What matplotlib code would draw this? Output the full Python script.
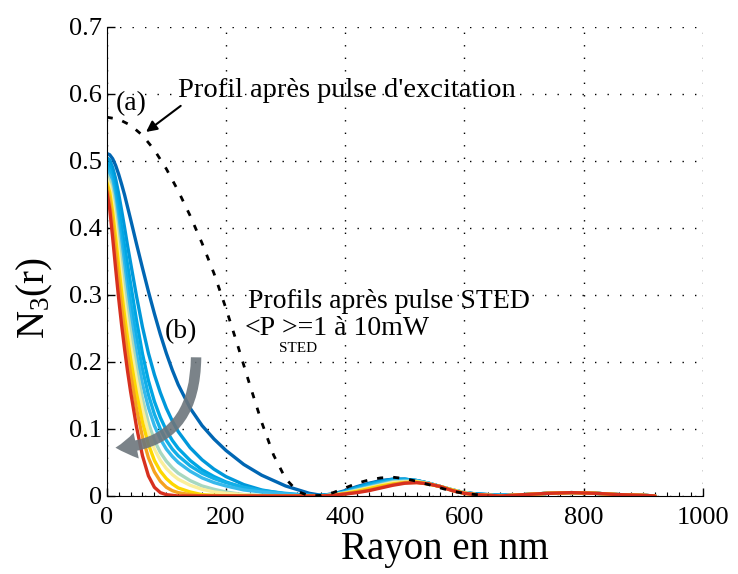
import numpy as np
import matplotlib.pyplot as plt
from matplotlib.patches import FancyArrowPatch
from matplotlib.ticker import MultipleLocator

plt.rcParams['font.family'] = ['Liberation Serif', 'DejaVu Serif']
plt.rcParams['mathtext.default'] = 'regular'

# excitation profile (dashed)
r_exc = [0, 20, 40, 60, 80, 100, 120, 140, 160, 180, 200, 220, 240, 260, 280, 300, 320,
         340, 360, 380, 400, 420, 440, 460, 480, 500, 520, 540, 560, 580, 600, 620, 640]
n_exc = [0.565, 0.562, 0.553, 0.538, 0.516, 0.488, 0.455, 0.418, 0.377, 0.332, 0.280,
         0.224, 0.166, 0.110, 0.061, 0.026, 0.007, 0.000, 0.001, 0.005, 0.012, 0.019,
         0.024, 0.027, 0.028, 0.026, 0.022, 0.017, 0.012, 0.007, 0.004, 0.002, 0.001]

# STED profiles, 1 to 10 mW
r_sted = [0, 5, 10, 15, 20, 25, 30, 35, 40, 50, 60, 70, 80, 90, 100, 110, 120, 140, 160,
          180, 200, 230, 260, 300, 340,
          360, 380, 400, 420, 440, 460, 480, 500, 520, 540, 560, 580, 600, 620, 660,
          700, 740, 780, 820, 860, 900, 920]
n_1mW = [0.511, 0.509, 0.503, 0.493, 0.480, 0.465, 0.449, 0.431, 0.413, 0.376, 0.340,
         0.305, 0.272, 0.241, 0.213, 0.188, 0.166, 0.131, 0.105, 0.085, 0.068, 0.047,
         0.031, 0.015, 0.004,
         0.001, 0.003, 0.008, 0.014, 0.019, 0.023, 0.025, 0.025, 0.023, 0.019, 0.014,
         0.009, 0.005, 0.003, 0.001, 0.002, 0.004, 0.005, 0.004, 0.002, 0.001, 0.000]
n_2mW = [0.505, 0.501, 0.490, 0.473, 0.451, 0.426, 0.400, 0.373, 0.348, 0.298, 0.252,
         0.213, 0.181, 0.154, 0.131, 0.112, 0.096, 0.072, 0.054, 0.040, 0.029, 0.017,
         0.009, 0.003, 0.000,
         0.001, 0.003, 0.007, 0.013, 0.018, 0.022, 0.025, 0.025, 0.023, 0.019, 0.014,
         0.009, 0.005, 0.003, 0.001, 0.002, 0.004, 0.005, 0.004, 0.002, 0.001, 0.000]
n_3mW = [0.498, 0.492, 0.477, 0.455, 0.429, 0.401, 0.373, 0.345, 0.317, 0.262, 0.212,
         0.172, 0.141, 0.117, 0.098, 0.083, 0.071, 0.053, 0.039, 0.029, 0.021, 0.012,
         0.006, 0.002, 0.000,
         0.001, 0.002, 0.006, 0.012, 0.017, 0.021, 0.024, 0.025, 0.023, 0.019, 0.014,
         0.009, 0.005, 0.003, 0.001, 0.002, 0.004, 0.005, 0.004, 0.002, 0.001, 0.000]
n_4mW = [0.492, 0.485, 0.467, 0.441, 0.411, 0.380, 0.349, 0.319, 0.290, 0.237, 0.189,
         0.151, 0.122, 0.100, 0.083, 0.070, 0.060, 0.045, 0.034, 0.026, 0.020, 0.013,
         0.008, 0.004, 0.001,
         0.000, 0.002, 0.006, 0.011, 0.016, 0.020, 0.023, 0.024, 0.023, 0.019, 0.014,
         0.009, 0.005, 0.002, 0.001, 0.002, 0.004, 0.005, 0.004, 0.002, 0.001, 0.000]
n_5mW = [0.486, 0.477, 0.457, 0.428, 0.395, 0.361, 0.328, 0.296, 0.266, 0.212, 0.167,
         0.132, 0.105, 0.085, 0.070, 0.059, 0.050, 0.037, 0.027, 0.020, 0.015, 0.009,
         0.006, 0.003, 0.001,
         0.000, 0.002, 0.005, 0.010, 0.014, 0.019, 0.022, 0.023, 0.022, 0.019, 0.014,
         0.009, 0.005, 0.002, 0.001, 0.002, 0.004, 0.005, 0.004, 0.002, 0.001, 0.000]
n_6mW = [0.480, 0.470, 0.448, 0.416, 0.380, 0.344, 0.309, 0.276, 0.246, 0.191, 0.145,
         0.109, 0.083, 0.065, 0.052, 0.042, 0.034, 0.023, 0.015, 0.010, 0.006, 0.002,
         0.001, 0.000, 0.000,
         0.000, 0.002, 0.005, 0.009, 0.013, 0.017, 0.021, 0.022, 0.022, 0.019, 0.014,
         0.009, 0.005, 0.002, 0.000, 0.002, 0.004, 0.005, 0.004, 0.002, 0.001, 0.000]
n_7mW = [0.474, 0.462, 0.436, 0.401, 0.362, 0.324, 0.288, 0.255, 0.225, 0.173, 0.129,
         0.095, 0.070, 0.053, 0.041, 0.032, 0.025, 0.016, 0.010, 0.006, 0.004, 0.002,
         0.000, 0.000, 0.000,
         0.000, 0.001, 0.004, 0.008, 0.012, 0.016, 0.020, 0.021, 0.021, 0.018, 0.014,
         0.009, 0.005, 0.002, 0.000, 0.002, 0.004, 0.005, 0.004, 0.002, 0.001, 0.000]
n_8mW = [0.468, 0.453, 0.423, 0.384, 0.343, 0.304, 0.268, 0.235, 0.205, 0.153, 0.110,
         0.077, 0.053, 0.037, 0.026, 0.018, 0.012, 0.006, 0.002, 0.001, 0.000, 0.000,
         0.000, 0.000, 0.000,
         0.000, 0.001, 0.004, 0.007, 0.011, 0.015, 0.018, 0.020, 0.021, 0.018, 0.014,
         0.009, 0.004, 0.002, 0.000, 0.002, 0.004, 0.005, 0.004, 0.002, 0.001, 0.000]
n_9mW = [0.462, 0.442, 0.406, 0.364, 0.321, 0.281, 0.245, 0.212, 0.182, 0.130, 0.088,
         0.057, 0.036, 0.022, 0.013, 0.008, 0.005, 0.002, 0.000, 0.000, 0.000, 0.000,
         0.000, 0.000, 0.000,
         0.000, 0.001, 0.003, 0.006, 0.009, 0.013, 0.017, 0.020, 0.020, 0.018, 0.014,
         0.008, 0.004, 0.002, 0.000, 0.002, 0.004, 0.005, 0.004, 0.002, 0.001, 0.000]
n_10mW = [0.455, 0.428, 0.385, 0.339, 0.295, 0.255, 0.219, 0.186, 0.156, 0.103, 0.060,
          0.030, 0.013, 0.005, 0.002, 0.001, 0.000, 0.000, 0.000, 0.000, 0.000, 0.000,
          0.000, 0.000, 0.000,
          0.000, 0.001, 0.003, 0.005, 0.008, 0.012, 0.016, 0.019, 0.020, 0.018, 0.014,
          0.008, 0.004, 0.002, 0.000, 0.002, 0.004, 0.005, 0.004, 0.002, 0.001, 0.000]

sted_curves = [n_1mW, n_2mW, n_3mW, n_4mW, n_5mW, n_6mW, n_7mW, n_8mW, n_9mW, n_10mW]
sted_colors = ['#0066b3', '#0098da', '#00a6e4', '#12afe8', '#36b9ec',
               '#a8d8c0', '#fbef9a', '#fdd700', '#f5a21f', '#d7301f']

fig = plt.figure(figsize=(7.38, 5.74), dpi=100)
ax = fig.add_axes([0.1446, 0.1359, 0.8076, 0.8176])

for vals, col in zip(sted_curves, sted_colors):
    ax.plot(r_sted, vals, color=col, lw=2.4, solid_capstyle='round',
            solid_joinstyle='round')
ax.plot(r_exc, n_exc, color='k', lw=2, linestyle=(0, (2.2, 3.6)))

ax.set_xlim(0, 1000)
ax.set_ylim(0, 0.7)
ax.set_xticks(range(0, 1001, 200))
ax.set_yticks(np.arange(0, 0.71, 0.1))
ax.set_yticklabels(['0', '0.1', '0.2', '0.3', '0.4', '0.5', '0.6', '0.7'])
ax.xaxis.set_minor_locator(MultipleLocator(20))
ax.tick_params(direction='in', labelsize=19, length=6, width=1)
ax.tick_params(which='minor', direction='in', length=3, width=0.8)
ax.tick_params(axis='x', which='major', pad=8)
ax.spines['top'].set_visible(False)
ax.spines['right'].set_visible(False)
ax.grid(True, which='major', color='k', lw=1, linestyle=(0, (1, 8)))

ax.set_xlabel('Rayon en nm', fontsize=28)
ax.xaxis.set_label_coords(0.567, -0.075)
ax.set_ylabel('N$_3$(r)', fontsize=28)
ax.yaxis.set_label_coords(-0.087, 0.422)

# annotations
ax.text(15, 0.576, '(a)', fontsize=20)
ax.annotate("Profil après pulse d'excitation", xy=(66, 0.543), xytext=(119, 0.595),
            fontsize=20.5, arrowprops=dict(arrowstyle='-|>', color='k', lw=1.5,
                                           mutation_scale=16, shrinkA=0, shrinkB=0,
                                           relpos=(0.02, 0.0)))
ax.text(97, 0.235, '(b)', fontsize=20)
ax.text(237, 0.280, 'Profils après pulse STED', fontsize=20)
ax.annotate('<P', xy=(231.5, 0.240), fontsize=20)
ax.annotate('STED', xy=(231.5, 0.240), xytext=(24.5, -12.5), textcoords='offset points',
            fontsize=11)
ax.annotate('>=1 à 10mW', xy=(231.5, 0.240), xytext=(27, 0), textcoords='offset points',
            fontsize=20)

arr = FancyArrowPatch((150, 0.211), (10, 0.072),
                      connectionstyle='angle3,angleA=90,angleB=0',
                      arrowstyle='simple,head_width=1.9,head_length=1.5,tail_width=0.75',
                      mutation_scale=10, color='#6d767c', alpha=0.9, lw=0, zorder=5)
ax.add_patch(arr)

plt.savefig('out.png', dpi=100)
